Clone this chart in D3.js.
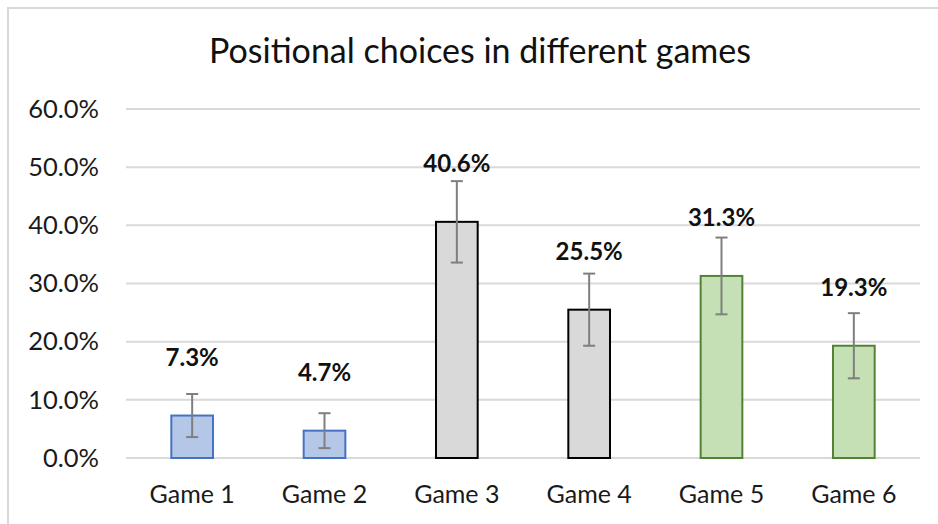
<!DOCTYPE html>
<html><head><meta charset="utf-8">
<script src="https://cdn.jsdelivr.net/npm/d3@7"></script>
<style>body{margin:0;background:#fff;} svg{display:block;} text{font-family:Lato,"Open Sans",sans-serif;}</style>
</head><body>
<svg id="c" width="938" height="524"></svg>
<script>
const title = "Positional choices in different games";
const categories = ["Game 1","Game 2","Game 3","Game 4","Game 5","Game 6"];
const values = [7.3, 4.7, 40.6, 25.5, 31.3, 19.3];
const errors = [3.7, 3.0, 7.0, 6.2, 6.6, 5.6];
const valueLabels = ["7.3%","4.7%","40.6%","25.5%","31.3%","19.3%"];
const yTicks = [0,10,20,30,40,50,60];
const yTickLabels = ["0.0%","10.0%","20.0%","30.0%","40.0%","50.0%","60.0%"];
const fills = ["#b4c7e7","#b4c7e7","#d9d9d9","#d9d9d9","#c5e0b4","#c5e0b4"];
const strokes = ["#4472c4","#4472c4","#000000","#000000","#548235","#548235"];

const svg = d3.select("#c");
svg.append("rect").attr("x",8).attr("y",8).attr("width",940).attr("height",530)
  .attr("fill","#fff").attr("stroke","#d9d9d9").attr("stroke-width",2);

const x = d3.scaleBand().domain(categories).range([126,920]).padding(0);
const y = d3.scaleLinear().domain([0,60]).range([458,109]);
const bw = x.bandwidth()*0.315;

svg.append("text").attr("x",480).attr("y",63).attr("text-anchor","middle")
  .attr("font-size",34).attr("fill","#111").text(title);

const yAxis = d3.axisLeft(y).tickValues(yTicks).tickSize(0).tickFormat((d,i)=>yTickLabels[i]);
const ga = svg.append("g").attr("transform","translate(99,0)").call(yAxis);
ga.select(".domain").remove();
ga.selectAll("text").attr("font-size",25.5).attr("fill","#1a1a1a").attr("dy","0.32em").attr("x",0);

svg.append("g").selectAll("line").data(yTicks).join("line")
  .attr("x1",126).attr("x2",920).attr("y1",d=>y(d)).attr("y2",d=>y(d))
  .attr("stroke","#d9d9d9").attr("stroke-width",2);

const xAxis = d3.axisBottom(x).tickSize(0);
const gx = svg.append("g").attr("transform","translate(0,458)").call(xAxis);
gx.select(".domain").remove();
gx.selectAll("text").attr("font-size",25).attr("fill","#1a1a1a").attr("dy",0).attr("y",45);

svg.append("g").selectAll("rect").data(values).join("rect")
  .attr("x",(d,i)=>x(categories[i])+x.bandwidth()/2-bw/2)
  .attr("y",d=>y(d)).attr("width",bw).attr("height",d=>y(0)-y(d))
  .attr("fill",(d,i)=>fills[i]).attr("stroke",(d,i)=>strokes[i]).attr("stroke-width",2);

const eg = svg.append("g").attr("stroke","#7f7f7f").attr("stroke-width",2);
values.forEach((v,i)=>{
  const cx = x(categories[i])+x.bandwidth()/2;
  const t = y(v+errors[i]), b = y(v-errors[i]);
  eg.append("line").attr("x1",cx).attr("x2",cx).attr("y1",t).attr("y2",b);
  eg.append("line").attr("x1",cx-6).attr("x2",cx+6).attr("y1",t).attr("y2",t);
  eg.append("line").attr("x1",cx-6).attr("x2",cx+6).attr("y1",b).attr("y2",b);
});

svg.append("g").selectAll("text").data(values).join("text")
  .attr("x",(d,i)=>x(categories[i])+x.bandwidth()/2)
  .attr("y",d=>y(d)-50).attr("text-anchor","middle")
  .attr("font-size",24).attr("font-weight","bold").attr("fill","#111")
  .text((d,i)=>valueLabels[i]);
</script>
</body></html>
